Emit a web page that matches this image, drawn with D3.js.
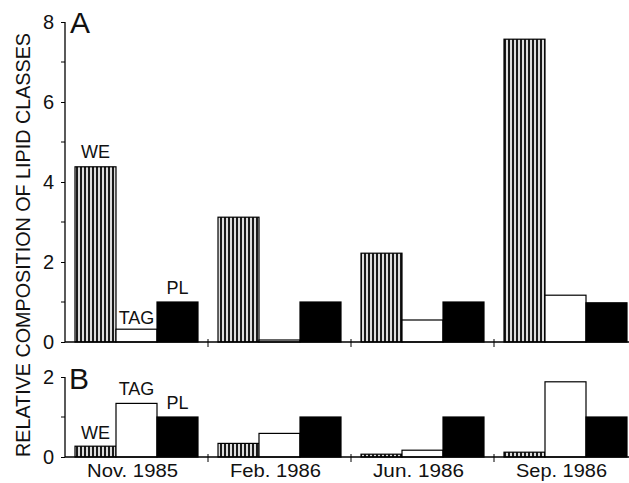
<!DOCTYPE html>
<html>
<head>
<meta charset="utf-8">
<script src="https://cdn.jsdelivr.net/npm/d3@7"></script>
<style>
  body { margin: 0; background: #fff; }
  text { font-family: "Liberation Sans", Arial, sans-serif; fill: #111; }
</style>
</head>
<body>
<div class="container"></div>
<script>
const months = ["Nov. 1985", "Feb. 1986", "Jun. 1986", "Sep. 1986"];
const classes = ["WE", "TAG", "PL"];

// panel A
const weA = [4.38, 3.12, 2.22, 7.57];
const tagA = [0.32, 0.05, 0.55, 1.17];
const plA = [1.0, 1.0, 1.0, 0.98];

// panel B
const weB = [0.27, 0.34, 0.07, 0.12];
const tagB = [1.34, 0.59, 0.17, 1.88];
const plB = [1.0, 1.0, 1.0, 1.0];

const ticksA = [0, 2, 4, 6, 8];
const ticksB = [0, 2];

const width = 629;
const height = 483;

const svg = d3
  .select(".container")
  .append("svg")
  .attr("width", width)
  .attr("height", height);

const defs = svg.append("defs");
const pat = defs
  .append("pattern")
  .attr("id", "hatch")
  .attr("patternUnits", "userSpaceOnUse")
  .attr("width", 4)
  .attr("height", 8);
pat.append("rect").attr("width", 4).attr("height", 8).attr("fill", "#ddd");
pat.append("rect").attr("width", 2).attr("height", 8).attr("fill", "#1a1a1a");

const fills = { WE: "url(#hatch)", TAG: "#fff", PL: "#000" };

const xScale = d3.scaleBand().domain(months).range([65, 637]);
const xInner = d3
  .scaleBand()
  .domain(classes)
  .range([0, xScale.bandwidth()])
  .paddingOuter(0.244);

const yA = d3.scaleLinear().domain([0, 8]).range([342, 22]);
const yB = d3.scaleLinear().domain([0, 2]).range([457, 377]);

function panel(y, we, tag, pl, ticks, minor, letter, labelPos) {
  const g = svg.append("g");
  const rows = months.map((m, i) => ({ m, WE: we[i], TAG: tag[i], PL: pl[i] }));

  rows.forEach((r) => {
    classes.forEach((c) => {
      g.append("rect")
        .attr("x", xScale(r.m) + xInner(c))
        .attr("y", y(r[c]))
        .attr("width", xInner.bandwidth())
        .attr("height", y(0) - y(r[c]))
        .attr("fill", fills[c])
        .attr("stroke", "#000")
        .attr("stroke-width", 1.2);
    });
  });

  // y axis
  const yAxis = d3
    .axisLeft(y)
    .tickValues(ticks)
    .tickSize(4)
    .tickPadding(7)
    .tickFormat(d3.format("d"));
  const ya = g.append("g").attr("transform", "translate(65,0)").call(yAxis);
  ya.select(".domain").attr("stroke-width", 1.3).attr("d", `M-0,${y.range()[0]}V${y.range()[1]}`);
  ya.selectAll("text").style("font-size", "20px").attr("fill", "#111");
  g.selectAll(".minor")
    .data(minor)
    .enter()
    .append("line")
    .attr("x1", 61)
    .attr("x2", 65)
    .attr("y1", (d) => y(d))
    .attr("y2", (d) => y(d))
    .attr("stroke", "#000");

  // x axis
  g.append("line")
    .attr("x1", 65)
    .attr("x2", 629)
    .attr("y1", y(0))
    .attr("y2", y(0))
    .attr("stroke", "#000")
    .attr("stroke-width", 1.3);
  g.selectAll(".xt")
    .data(months.slice(1))
    .enter()
    .append("line")
    .attr("x1", (d) => xScale(d))
    .attr("x2", (d) => xScale(d))
    .attr("y1", y(0) - 3)
    .attr("y2", y(0) + 5)
    .attr("stroke", "#000");

  g.append("text")
    .attr("x", letter[0])
    .attr("y", letter[1])
    .style("font-size", "30px")
    .text(letter[2]);

  // class labels over first group
  classes.forEach((c) => {
    g.append("text")
      .attr("x", xScale(months[0]) + xInner(c) + xInner.bandwidth() / 2)
      .attr("y", y(rows[0][c]) - labelPos[c])
      .attr("text-anchor", "middle")
      .style("font-size", "18px")
      .text(c);
  });
}

panel(yA, weA, tagA, plA, ticksA, [1, 3, 5, 7], [70, 33, "A"], { WE: 9, TAG: 5, PL: 8 });
panel(yB, weB, tagB, plB, ticksB, [1], [69, 389, "B"], { WE: 7, TAG: 8, PL: 8 });

svg
  .selectAll(".xl")
  .data(months)
  .enter()
  .append("text")
  .attr("x", (d) => xScale(d) + xScale.bandwidth() / 2 - 4)
  .attr("y", 477)
  .attr("text-anchor", "middle")
  .style("font-size", "18px")
  .attr("textLength", 91)
  .attr("lengthAdjust", "spacingAndGlyphs")
  .text((d) => d);

svg
  .append("text")
  .attr("transform", "translate(29.5,245) rotate(-90)")
  .attr("text-anchor", "middle")
  .style("font-size", "21px")
  .attr("textLength", 424)
  .attr("lengthAdjust", "spacingAndGlyphs")
  .text("RELATIVE COMPOSITION OF LIPID CLASSES");
</script>
</body>
</html>
